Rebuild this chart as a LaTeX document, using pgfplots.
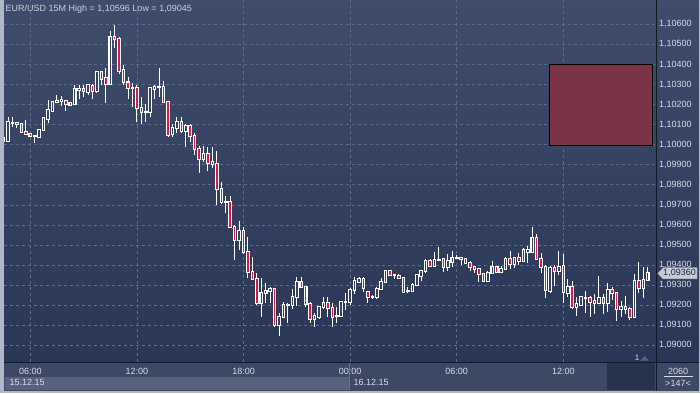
\documentclass[border=0pt]{standalone}
\usepackage{pgfplots}
\pgfplotsset{compat=1.18}
\usepackage{pgfplotstable}
\usepackage{fontspec}
\setmainfont{Liberation Sans}
\definecolor{bgtop}{HTML}{3F4C6C}
\definecolor{bgbot}{HTML}{2A3656}
\definecolor{gridc}{HTML}{5C6B8C}
\definecolor{panelc}{HTML}{3C4864}
\definecolor{bandc}{HTML}{56627D}
\definecolor{boxc}{HTML}{27324B}
\definecolor{framec}{HTML}{AEB8C9}
\definecolor{sepc}{HTML}{121A2A}
\definecolor{txtc}{HTML}{D6DDE9}
\definecolor{titlec}{HTML}{C8D0DE}
\definecolor{candred}{HTML}{E3173F}
\definecolor{hollow}{HTML}{354262}
\definecolor{zonec}{HTML}{7A3347}
\definecolor{pricebox}{HTML}{C6CBD4}
\definecolor{priceedge}{HTML}{8E96A6}
\definecolor{pricetxt}{HTML}{1C2842}
\definecolor{bandsep}{HTML}{65718B}
\definecolor{trianglec}{HTML}{56627E}

\pgfplotstableread{
x o h l c
-6 1.10021 1.10035 1.10020 1.10031
-5 1.10021 1.10136 1.10021 1.10111
-4 1.10109 1.10139 1.10090 1.10109
1 1.10043 1.10043 1.10010 1.10043
2 1.10038 1.10076 1.10036 1.10073
3 1.10073 1.10139 1.10068 1.10133
4 1.10129 1.10222 1.10106 1.10173
5 1.10169 1.10211 1.10164 1.10211
6 1.10211 1.10247 1.10207 1.10217
7 1.10217 1.10242 1.10193 1.10221
9 1.10199 1.10214 1.10193 1.10209
10 1.10202 1.10297 1.10197 1.10276
11 1.10271 1.10297 1.10227 1.10276
13 1.10264 1.10305 1.10247 1.10297
15 1.10266 1.10369 1.10259 1.10364
18 1.10305 1.10568 1.10305 1.10535
23 1.10281 1.10310 1.10189 1.10281
26 1.10161 1.10202 1.10114 1.10161
27 1.10161 1.10281 1.10136 1.10281
28 1.10279 1.10300 1.10226 1.10286
29 1.10286 1.10380 1.10239 1.10286
32 1.10051 1.10101 1.10036 1.10081
33 1.10081 1.10136 1.10056 1.10111
35 1.10068 1.10101 1.09990 1.10091
39 1.09927 1.09993 1.09915 1.09952
44 1.09716 1.09744 1.09658 1.09716
47 1.09525 1.09619 1.09475 1.09571
52 1.09213 1.09334 1.09143 1.09260
53 1.09260 1.09309 1.09210 1.09271
54 1.09271 1.09293 1.09213 1.09280
56 1.09102 1.09160 1.09045 1.09143
57 1.09140 1.09218 1.09135 1.09201
58 1.09201 1.09210 1.09110 1.09201
59 1.09201 1.09280 1.09180 1.09240
60 1.09240 1.09339 1.09197 1.09314
64 1.09130 1.09160 1.09090 1.09147
65 1.09140 1.09190 1.09130 1.09190
66 1.09190 1.09240 1.09180 1.09210
69 1.09148 1.09190 1.09110 1.09148
70 1.09148 1.09221 1.09147 1.09215
71 1.09215 1.09260 1.09177 1.09215
72 1.09215 1.09285 1.09201 1.09276
73 1.09276 1.09343 1.09256 1.09321
74 1.09318 1.09343 1.09313 1.09329
77 1.09243 1.09251 1.09233 1.09243
78 1.09240 1.09293 1.09230 1.09280
79 1.09279 1.09334 1.09276 1.09318
80 1.09314 1.09376 1.09313 1.09372
82 1.09351 1.09356 1.09331 1.09351
85 1.09273 1.09289 1.09259 1.09273
86 1.09273 1.09309 1.09269 1.09301
87 1.09301 1.09356 1.09296 1.09351
88 1.09347 1.09371 1.09323 1.09371
89 1.09371 1.09429 1.09359 1.09421
91 1.09397 1.09467 1.09389 1.09426
92 1.09426 1.09492 1.09421 1.09426
94 1.09392 1.09454 1.09372 1.09421
95 1.09417 1.09470 1.09392 1.09434
96 1.09434 1.09450 1.09429 1.09434
97 1.09431 1.09439 1.09401 1.09434
103 1.09321 1.09371 1.09318 1.09362
104 1.09359 1.09421 1.09356 1.09392
106 1.09364 1.09396 1.09359 1.09381
107 1.09379 1.09442 1.09376 1.09429
109 1.09404 1.09442 1.09384 1.09437
111 1.09422 1.09487 1.09417 1.09475
112 1.09464 1.09495 1.09409 1.09475
113 1.09464 1.09588 1.09459 1.09534
117 1.09273 1.09396 1.09263 1.09387
119 1.09372 1.09470 1.09351 1.09392
121 1.09259 1.09329 1.09240 1.09289
123 1.09193 1.09240 1.09147 1.09205
124 1.09201 1.09246 1.09201 1.09240
125 1.09238 1.09271 1.09160 1.09238
128 1.09210 1.09346 1.09206 1.09235
130 1.09210 1.09309 1.09165 1.09276
133 1.09180 1.09223 1.09143 1.09190
136 1.09143 1.09356 1.09135 1.09323
138 1.09284 1.09392 1.09235 1.09326
139 1.09326 1.09392 1.09326 1.09360
}\upcandles

\pgfplotstableread{
x o h l c
-3 1.10109 1.10109 1.10081 1.10101
-2 1.10101 1.10106 1.10063 1.10065
-1 1.10065 1.10123 1.10055 1.10055
0 1.10055 1.10060 1.10040 1.10045
8 1.10219 1.10222 1.10169 1.10201
12 1.10276 1.10297 1.10239 1.10267
14 1.10294 1.10302 1.10226 1.10269
16 1.10364 1.10369 1.10300 1.10327
17 1.10330 1.10380 1.10209 1.10305
19 1.10535 1.10596 1.10480 1.10525
20 1.10525 1.10538 1.10352 1.10369
21 1.10372 1.10397 1.10297 1.10312
22 1.10310 1.10335 1.10227 1.10281
24 1.10281 1.10300 1.10111 1.10181
25 1.10181 1.10236 1.10101 1.10161
30 1.10286 1.10315 1.10206 1.10211
31 1.10211 1.10216 1.10036 1.10048
34 1.10111 1.10136 1.10056 1.10068
36 1.10091 1.10101 1.10015 1.10043
37 1.10043 1.10056 1.09948 1.09977
38 1.09977 1.09993 1.09860 1.09927
40 1.09952 1.09990 1.09870 1.09907
41 1.09912 1.09990 1.09882 1.09902
42 1.09902 1.09968 1.09699 1.09777
43 1.09777 1.09812 1.09707 1.09716
45 1.09716 1.09744 1.09591 1.09591
46 1.09591 1.09600 1.09428 1.09525
48 1.09571 1.09588 1.09458 1.09467
49 1.09467 1.09538 1.09337 1.09364
50 1.09368 1.09442 1.09326 1.09329
51 1.09329 1.09359 1.09201 1.09213
55 1.09280 1.09280 1.09090 1.09102
61 1.09314 1.09339 1.09285 1.09293
62 1.09290 1.09293 1.09193 1.09205
63 1.09205 1.09218 1.09110 1.09130
67 1.09210 1.09240 1.09143 1.09185
68 1.09185 1.09213 1.09090 1.09143
75 1.09329 1.09339 1.09268 1.09285
76 1.09268 1.09273 1.09213 1.09240
81 1.09371 1.09376 1.09346 1.09351
83 1.09347 1.09354 1.09331 1.09336
84 1.09337 1.09342 1.09264 1.09268
90 1.09421 1.09429 1.09392 1.09397
93 1.09431 1.09434 1.09367 1.09392
98 1.09431 1.09434 1.09405 1.09409
99 1.09412 1.09421 1.09372 1.09389
100 1.09389 1.09392 1.09359 1.09379
101 1.09379 1.09384 1.09318 1.09354
102 1.09354 1.09359 1.09318 1.09321
105 1.09392 1.09396 1.09359 1.09364
108 1.09429 1.09470 1.09379 1.09404
110 1.09437 1.09459 1.09401 1.09422
114 1.09534 1.09553 1.09426 1.09429
115 1.09429 1.09462 1.09362 1.09389
116 1.09389 1.09401 1.09235 1.09276
118 1.09384 1.09401 1.09296 1.09372
120 1.09396 1.09455 1.09213 1.09264
122 1.09289 1.09323 1.09180 1.09193
126 1.09235 1.09246 1.09143 1.09218
127 1.09221 1.09254 1.09157 1.09210
129 1.09235 1.09254 1.09155 1.09210
131 1.09276 1.09293 1.09226 1.09259
132 1.09259 1.09259 1.09123 1.09180
134 1.09190 1.09246 1.09157 1.09180
135 1.09180 1.09193 1.09127 1.09143
137 1.09323 1.09414 1.09259 1.09284
}\downcandles

\pgfplotsset{
  candle/.style={draw=none, fill=none, no markers, forget plot,
    error bars/y dir=plus, error bars/y explicit, error bars/error mark=none},
}

\begin{document}
\begin{tikzpicture}[x=1pt,y=1pt,font=\fontsize{9}{10.8}\selectfont]
\path[use as bounding box] (0,0) rectangle (700,393);
\shade[top color=bgtop,bottom color=bgbot] (0,31) rectangle (700,393);
\fill[panelc] (0,0) rectangle (700,31);
\fill[bandc] (5,3) rectangle (349,16);
\fill[boxc] (607,3) rectangle (655,30);
\draw[bandsep, line width=0.6pt] (349,3) -- (349,30);

\begin{axis}[
  at={(4pt,31pt)}, anchor=south west, scale only axis,
  width=652pt, height=362pt,
  xmin=-5.92, xmax=140.86, ymin=1.089174, ymax=1.107211,
  axis line style={draw=none}, tick style={draw=none},
  xtick={0,24,48,72,96,120},
  xticklabels={06:00,12:00,18:00,00:00,06:00,12:00},
  ytick={1.090,1.091,1.092,1.093,1.094,1.095,1.096,1.097,1.098,1.099,1.100,1.101,1.102,1.103,1.104,1.105,1.106},
  yticklabels={{1,09000},{1,09100},{1,09200},{1,09300},{1,09400},{1,09500},{1,09600},{1,09700},{1,09800},{1,09900},{1,10000},{1,10100},{1,10200},{1,10300},{1,10400},{1,10500},{1,10600}},
  xmajorgrids, ymajorgrids,
  grid style={draw=gridc, line width=0.8pt, dash pattern=on 3pt off 3pt},
  ticklabel style={font=\fontsize{9}{10.8}\selectfont, text=txtc},
  xticklabel style={anchor=center, yshift=-9.7pt},
  yticklabel pos=right,
  yticklabel style={anchor=west, inner sep=0pt, xshift=3pt},
]
\addplot[draw=black, fill=zonec, line width=1pt, forget plot]
  coordinates {(116.77,1.10400) (140.07,1.10400) (140.07,1.09995) (116.77,1.09995)} -- cycle;

% wicks
\addplot[candle, error bars/error bar style={draw=white, line width=1pt}]
  table[x=x, y=l, y error plus expr=\thisrow{h}-\thisrow{l}] {\upcandles};
\addplot[candle, error bars/error bar style={draw=white, line width=1pt}]
  table[x=x, y=l, y error plus expr=\thisrow{h}-\thisrow{l}] {\downcandles};
% body outlines
\addplot[candle, error bars/error bar style={draw=white, line width=3.6pt}]
  table[x=x, y expr=\thisrow{o}-0.00005, y error plus expr=\thisrow{c}-\thisrow{o}+0.0001] {\upcandles};
\addplot[candle, error bars/error bar style={draw=white, line width=3.6pt}]
  table[x=x, y expr=\thisrow{c}-0.00005, y error plus expr=\thisrow{o}-\thisrow{c}+0.0001] {\downcandles};
% body fills
\addplot[candle, error bars/error bar style={draw=hollow, line width=1.5pt}]
  table[x=x, y=o, y error plus expr=\thisrow{c}-\thisrow{o}] {\upcandles};
\addplot[candle, error bars/error bar style={draw=candred, line width=1.5pt}]
  table[x=x, y=c, y error plus expr=\thisrow{o}-\thisrow{c}] {\downcandles};
\end{axis}

\draw[sepc, line width=1pt] (4,30.5) -- (700,30.5);
\draw[sepc, line width=1pt] (656.5,0) -- (656.5,393);
\fill[framec] (0,0) rectangle (3.5,393);
\fill[framec] (0,0) rectangle (700,2.5);
\fill[framec] (698.5,0) rectangle (700,393);

\node[anchor=base west, inner sep=0pt, text=titlec] at (5.5,381.3) {EUR/USD 15M High = 1,10596 Low = 1,09045};
\node[anchor=west, inner sep=0pt, text=txtc] at (9.5,10.7) {15.12.15};
\node[anchor=west, inner sep=0pt, text=txtc] at (353.5,10.7) {16.12.15};
\node[inner sep=0pt, text=txtc] at (678,21.3) {2060};
\draw[txtc, line width=0.6pt] (664,16.3) -- (693,16.3);
\node[inner sep=0pt, text=txtc] at (678,10) {>147<};
\node[inner sep=0pt, text=txtc, font=\fontsize{8}{9}\selectfont] at (637,35.5) {1};
\fill[trianglec] (640.5,32.5) -- (648.5,32.5) -- (644.5,37) -- cycle;

\filldraw[fill=pricebox, draw=priceedge, line width=0.5pt]
  (657.8,119.7) -- (663,125.3) -- (697,125.3) -- (697,114) -- (663,114) -- cycle;
\node[inner sep=0pt, text=pricetxt] at (679.5,119.7) {1,09360};
\end{tikzpicture}
\end{document}
